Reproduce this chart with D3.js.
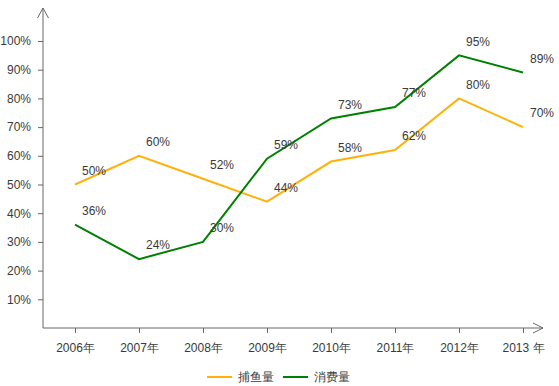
<!DOCTYPE html>
<html>
<head>
<meta charset="utf-8">
<script src="https://cdn.jsdelivr.net/npm/d3@7"></script>
<style>
  body { margin: 0; background: #fff; }
  text { font-family: "Liberation Sans", Arial, sans-serif; font-size: 12px; fill: #3a3a3a; }
</style>
</head>
<body>
<div id="chart"></div>
<script>
var years = ['2006年', '2007年', '2008年', '2009年', '2010年', '2011年', '2012年', '2013 年'];
var catch_ = [50, 60, 52, 44, 58, 62, 80, 70];
var consume = [36, 24, 30, 59, 73, 77, 95, 89];
var yTicks = [10, 20, 30, 40, 50, 60, 70, 80, 90, 100];
var seriesNames = ['捕鱼量', '消费量'];
var colors = ['#ffb10a', '#008000'];

var width = 559, height = 386;
var axisColor = '#666';

var svg = d3.select('#chart').append('svg')
    .attr('width', width)
    .attr('height', height);

var x = d3.scalePoint()
    .domain(years)
    .range([75, 523]);

var y = d3.scaleLinear()
    .domain([0, 100])
    .range([328, 41]);

// y axis
var yAxis = svg.append('g')
    .attr('transform', 'translate(43,0)')
    .call(d3.axisLeft(y).tickValues(yTicks).tickSize(5).tickPadding(7)
      .tickFormat(function(d) { return d + '%'; }));
yAxis.select('.domain').remove();
yAxis.selectAll('line').attr('stroke', axisColor);
yAxis.selectAll('text').style('font-size', '12px').attr('fill', '#3a3a3a');

// x axis
var xAxis = svg.append('g')
    .attr('transform', 'translate(0,328)')
    .call(d3.axisBottom(x).tickSize(5).tickPadding(10));
xAxis.select('.domain').remove();
xAxis.selectAll('line').attr('stroke', axisColor);
xAxis.selectAll('text').style('font-size', '12px').attr('fill', '#3a3a3a');

// axis lines with open arrows
svg.append('path')
    .attr('d', 'M43,328V8M37.5,18L43,8L48.5,18')
    .attr('fill', 'none')
    .attr('stroke', axisColor);
svg.append('path')
    .attr('d', 'M43,328H543M533,323L543,328L533,333')
    .attr('fill', 'none')
    .attr('stroke', axisColor);

var line = d3.line()
    .x(function(d, i) { return x(years[i]); })
    .y(function(d) { return y(d); });

[catch_, consume].forEach(function(vals, s) {
  svg.append('path')
      .datum(vals)
      .attr('d', line)
      .attr('fill', 'none')
      .attr('stroke', colors[s])
      .attr('stroke-width', 2);

  svg.append('g').selectAll('text')
    .data(vals)
    .enter().append('text')
      .attr('x', function(d, i) { return x(years[i]) + 7; })
      .attr('y', function(d) { return y(d) - 14; })
      .attr('dy', '.35em')
      .text(function(d) { return d + '%'; });
});

// legend
var legend = svg.append('g')
    .attr('transform', 'translate(207,377)');
var item = legend.selectAll('g')
    .data(seriesNames)
    .enter().append('g')
      .attr('transform', function(d, i) { return 'translate(' + (i * 76) + ',0)'; });
item.append('line')
    .attr('x1', 0).attr('x2', 25)
    .attr('stroke', function(d, i) { return colors[i]; })
    .attr('stroke-width', 2);
item.append('text')
    .attr('x', 31)
    .attr('dy', '.35em')
    .text(function(d) { return d; });
</script>
</body>
</html>
